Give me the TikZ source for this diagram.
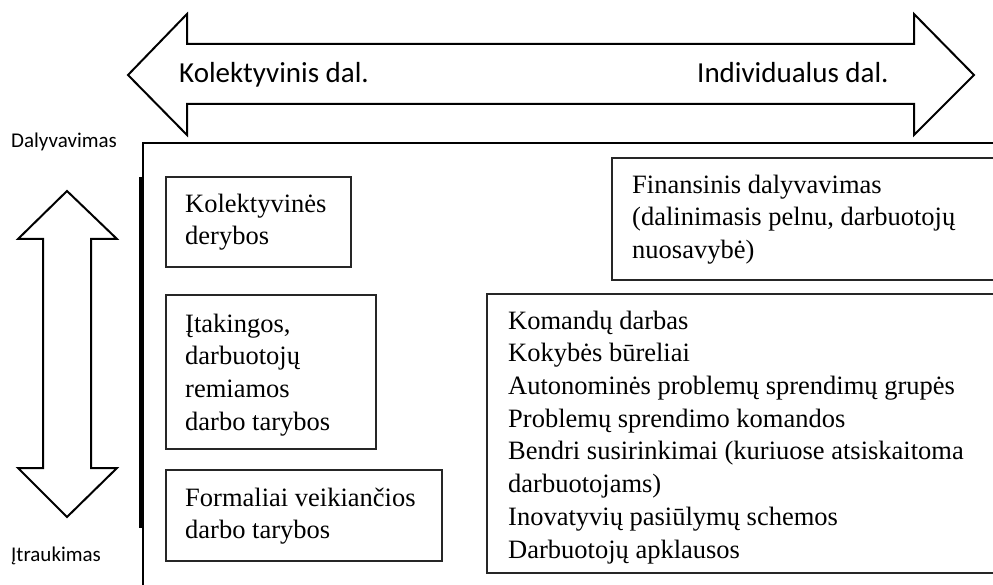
\documentclass[tikz,border=0pt]{standalone}
\usepackage{fontspec}
\setmainfont{Liberation Serif}
\newfontfamily\labelfont{Carlito}
\begin{document}
\begin{tikzpicture}[x=1pt,y=-1pt,
  bigarrow/.style={draw=black,line width=2pt,line join=miter},
  boxline/.style={draw=black!85,line width=1.4pt},
  boxtext/.style={anchor=north west,inner sep=0pt,align=left,font=\fontsize{26.5}{32.7}\selectfont},
  arrowlabel/.style={anchor=base west,inner sep=0pt,font=\labelfont\fontsize{29}{34}\selectfont},
  sidelabel/.style={anchor=base west,inner sep=0pt,font=\labelfont\fontsize{21}{25}\selectfont}]
\useasboundingbox (0,0) rectangle (993,585);
\clip (0,0) rectangle (993,585);
% horizontal double arrow
\draw[bigarrow] (128,75) -- (187,14) -- (187,44) -- (914,44) -- (914,14) -- (974,75)
  -- (914,135) -- (914,104) -- (187,104) -- (187,135) -- cycle;
\node[arrowlabel] (kol) at (179,83) {Kolektyvinis dal.};
\node[arrowlabel] (ind) at (697,83) {Individualus dal.};
% vertical double arrow
\draw[bigarrow] (67,191) -- (117,239) -- (91,239) -- (91,468) -- (117,468) -- (67,517)
  -- (18,468) -- (43,468) -- (43,239) -- (18,239) -- cycle;
\node[sidelabel] (daly) at (11,148) {Dalyvavimas};
\node[sidelabel] (itr) at (11,561) {Įtraukimas};
% frame
\draw[line width=2pt] (143,600) -- (143,143) -- (1010,143);
\draw[line width=3pt] (140.5,177) -- (140.5,528);
% boxes
\draw[boxline] (166,177) rectangle (351,267);
\draw[boxline] (166,295) rectangle (376,449);
\draw[boxline] (166,470) rectangle (442,561);
\draw[boxline] (612,158) rectangle (1010,280);
\draw[boxline] (487,294) rectangle (1010,573);
\node[boxtext] (kd) at (185,189.1) {\strut Kolektyvinės\\derybos};
\node[boxtext] (it) at (185,309.1) {\strut Įtakingos,\\darbuotojų\\remiamos\\darbo tarybos};
\node[boxtext] (fo) at (185,483.1) {\strut Formaliai veikiančios\\darbo tarybos};
\node[boxtext] (fi) at (632,170.1) {\strut Finansinis dalyvavimas\\(dalinimasis pelnu, darbuotojų\\nuosavybė)};
\node[boxtext] (ko) at (508,306.1) {\strut Komandų darbas\\Kokybės būreliai\\Autonominės problemų sprendimų grupės\\Problemų sprendimo komandos\\Bendri susirinkimai (kuriuose atsiskaitoma\\darbuotojams)\\Inovatyvių pasiūlymų schemos\\Darbuotojų apklausos};
\end{tikzpicture}
\end{document}
